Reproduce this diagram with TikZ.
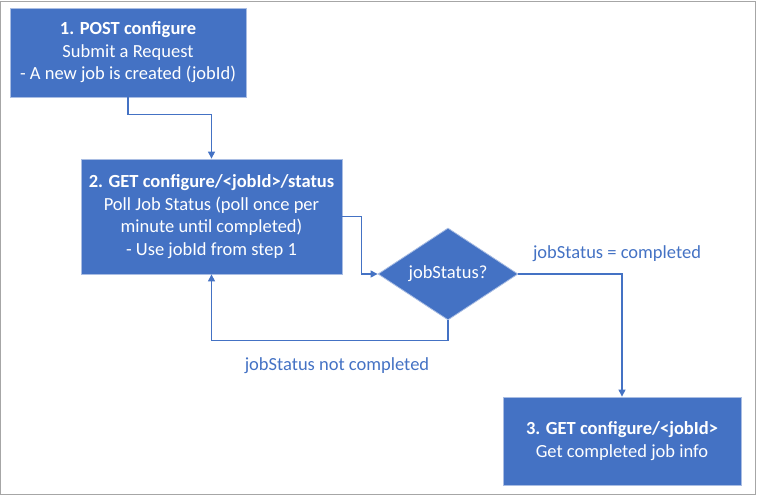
\documentclass[tikz,border=0pt]{standalone}
\usepackage{fontspec}
\setmainfont{Carlito}
\usepackage{tikz}
\usetikzlibrary{shapes.geometric,arrows.meta}
\definecolor{boxblue}{HTML}{4472C4}
\definecolor{edgeblue}{HTML}{A9BDE3}
\definecolor{framegray}{HTML}{A6A6A6}

\begin{document}
\begin{tikzpicture}[x=1pt,y=-1pt,>={Triangle[width=7pt,length=7pt]},
  stepbox/.style={rectangle,draw=edgeblue,line width=0.8pt,fill=boxblue,text=white,
    align=center,font=\fontsize{18.5}{22.5}\selectfont,inner sep=0pt},
  decision/.style={diamond,draw=edgeblue,line width=0.8pt,fill=boxblue,text=white,
    inner sep=0pt,aspect=1.52,font=\fontsize{18.5}{22.5}\selectfont},
  link/.style={->,draw=boxblue,line width=1.1pt},
  linklabel/.style={text=boxblue,font=\fontsize{18.5}{22}\selectfont,inner sep=0pt}]
\useasboundingbox (0,0) rectangle (757,497);
\draw[framegray,line width=1.2pt] (0.6,1.5) rectangle (755.5,494.5);
\node[stepbox,minimum width=236pt,minimum height=89pt] (s1) at (128,52.5)
  {\textbf{1. POST configure}\\Submit a Request\\- A new job is created (jobId)};
\node[stepbox,minimum width=261pt,minimum height=115pt] (s2) at (211.5,216.5)
  {\textbf{2. GET configure/<jobId>/status}\\Poll Job Status (poll once per\\minute until completed)\\- Use jobId from step 1};
\node[decision,minimum width=140pt,minimum height=92pt] (dec) at (448,274) {jobStatus?};
\node[stepbox,minimum width=238pt,minimum height=88pt] (s3) at (622,441)
  {\textbf{3. GET configure/<jobId>}\\Get completed job info};
\node[linklabel] (done) at (617,254) {jobStatus = completed};
\node[linklabel] (notdone) at (337,366) {jobStatus not completed};
\draw[link] (s1.south) -- ++(0,17) -| (s2.north);
\draw[link] (s2.east) -- ++(19,0) |- (dec.west);
\draw[link] (dec.south) -- ++(0,20) -| (s2.south);
\draw[link] (dec.east) -| (s3.north);
\end{tikzpicture}
\end{document}
